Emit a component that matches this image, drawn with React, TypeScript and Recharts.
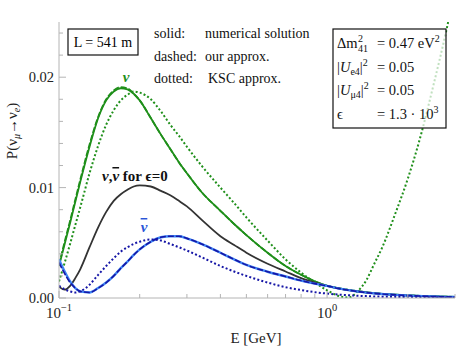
import { Line, LineChart, XAxis, YAxis } from "recharts";

const energies = [0.1, 0.105, 0.11, 0.115, 0.12, 0.13, 0.14, 0.15, 0.16, 0.17, 0.18, 0.19, 0.2, 0.22, 0.24, 0.26, 0.28, 0.3, 0.34, 0.4, 0.45, 0.5, 0.6, 0.7, 0.8, 0.9, 1.0, 1.1, 1.2, 1.3, 1.4, 1.5, 1.6, 1.8, 2.0, 2.2, 2.5, 2.8, 3.0];

// neutrino (green)
const nuNumerical = [0.0029, 0.0049, 0.0068, 0.0087, 0.0105, 0.0137, 0.0163, 0.0179, 0.0187, 0.019, 0.0189, 0.0185, 0.0179, 0.0163, 0.0148, 0.0135, 0.0123, 0.0113, 0.0096, 0.0079, 0.0067, 0.0057, 0.0041, 0.0029, 0.0021, 0.0015, 0.0011, 0.0009, 0.00074, 0.00061, 0.00051, 0.00044, 0.00038, 0.0003, 0.00024, 0.0002, 0.00015, 0.00012, 0.0001];
const nuOurs = [0.003, 0.0051, 0.007, 0.0089, 0.0107, 0.0139, 0.0164, 0.018, 0.0188, 0.0191, 0.019, 0.0185, 0.0179, 0.0163, 0.0148, 0.0135, 0.0123, 0.0113, 0.0096, 0.0079, 0.0067, 0.0057, 0.0041, 0.0029, 0.0021, 0.0015, 0.0011, 0.0009, 0.00074, 0.00061, 0.00051, 0.00044, 0.00038, 0.0003, 0.00024, 0.0002, 0.00015, 0.00012, 0.0001];
const nuKsc = [0.0015, 0.0032, 0.0049, 0.0066, 0.0082, 0.0113, 0.0138, 0.0157, 0.017, 0.0179, 0.0184, 0.0187, 0.0186, 0.018, 0.0169, 0.0157, 0.0147, 0.0137, 0.012, 0.01, 0.0086, 0.0073, 0.0052, 0.0035, 0.0023, 0.0014, 0.0007, 0.0002, 0.00005, 0.0006, 0.0016, 0.0031, 0.0045, 0.0077, 0.0108, 0.0141, 0.0194, 0.0245, 0.028];

// epsilon = 0 (black)
const epsZero = [0.00103, 0.00075, 0.0011, 0.0018, 0.0026, 0.0046, 0.0064, 0.0078, 0.0088, 0.0094, 0.0098, 0.0101, 0.0102, 0.0101, 0.0097, 0.0093, 0.0088, 0.0083, 0.0071, 0.0056, 0.0048, 0.0041, 0.0031, 0.0024, 0.0018, 0.0014, 0.0011, 0.00088, 0.00072, 0.0006, 0.0005, 0.00043, 0.00037, 0.00029, 0.00023, 0.00019, 0.00014, 0.00011, 0.0001];

// antineutrino (blue)
const barNumerical = [0.0035, 0.0024, 0.0015, 0.0009, 0.0006, 0.0005, 0.0009, 0.0014, 0.002, 0.0027, 0.0033, 0.0039, 0.0044, 0.0051, 0.0055, 0.0056, 0.0056, 0.0054, 0.0049, 0.0041, 0.0035, 0.003, 0.00238, 0.00195, 0.00158, 0.0013, 0.0011, 0.00087, 0.00071, 0.00059, 0.00049, 0.00042, 0.00036, 0.00028, 0.00022, 0.00018, 0.00013, 0.0001, 0.00009];
const barOurs = [0.0032, 0.0022, 0.0014, 0.0009, 0.0006, 0.0005, 0.0009, 0.0014, 0.002, 0.0027, 0.0033, 0.0039, 0.0044, 0.0051, 0.0055, 0.0056, 0.0056, 0.0054, 0.0049, 0.0041, 0.0035, 0.003, 0.00238, 0.00195, 0.00158, 0.0013, 0.0011, 0.00087, 0.00071, 0.00059, 0.00049, 0.00042, 0.00036, 0.00028, 0.00022, 0.00018, 0.00013, 0.0001, 0.00009];
const barKsc = [0.0011, 0.0008, 0.0006, 0.0005, 0.0006, 0.0012, 0.0021, 0.0029, 0.0036, 0.0042, 0.0046, 0.0049, 0.0051, 0.0053, 0.0052, 0.0049, 0.0046, 0.0043, 0.0037, 0.0029, 0.0024, 0.002, 0.0014, 0.00098, 0.00072, 0.00053, 0.0004, 0.00031, 0.00025, 0.0002, 0.00017, 0.00014, 0.00012, 0.0001, 0.00008, 0.00007, 0.00006, 0.00005, 0.00004];

const xTicks = [0.1, 0.2, 0.3, 0.4, 0.5, 0.6, 0.7, 0.8, 0.9, 1, 2, 3];
const yTicks = [0, 0.002, 0.004, 0.006, 0.008, 0.01, 0.012, 0.014, 0.016, 0.018, 0.02, 0.022, 0.024];

const data = energies.map((E, i) => ({
  E,
  nuNumerical: nuNumerical[i],
  nuOurs: nuOurs[i],
  nuKsc: nuKsc[i],
  epsZero: epsZero[i],
  barNumerical: barNumerical[i],
  barOurs: barOurs[i],
  barKsc: barKsc[i],
}));

const FONT = "'Liberation Serif', 'Times New Roman', serif";
const FRAME = "#b4b4b4";
const GREEN = "#1f8f1a";
const DARKBLUE = "#1616a6";
const LIGHTBLUE = "#3f86f5";

const isMajorX = (v: number) => v === 0.1 || v === 1;
const isMajorY = (v: number) => Math.abs(v * 100 - Math.round(v * 100)) < 1e-9;

function BottomTick({ x, y, payload }: any) {
  const major = isMajorX(payload.value);
  return (
    <g>
      <line x1={x} x2={x} y1={y} y2={y - (major ? 7 : 4)} stroke={FRAME} />
      {major && (
        <text x={x} y={y + 20} textAnchor="middle" fontFamily={FONT} fontSize={15} fill="#222">
          10
          <tspan dy={-7} fontSize={10.5}>{payload.value === 1 ? "0" : "\u22121"}</tspan>
        </text>
      )}
    </g>
  );
}

function TopTick({ x, y, payload }: any) {
  const major = isMajorX(payload.value);
  return <line x1={x} x2={x} y1={y} y2={y + (major ? 7 : 4)} stroke={FRAME} />;
}

function LeftTick({ x, y, payload }: any) {
  const major = isMajorY(payload.value);
  return (
    <g>
      <line x1={x} x2={x + (major ? 7 : 4)} y1={y} y2={y} stroke={FRAME} />
      {major && (
        <text x={x - 5} y={y + 5} textAnchor="end" fontFamily={FONT} fontSize={14.5} fill="#222">
          {payload.value.toFixed(2)}
        </text>
      )}
    </g>
  );
}

function RightTick({ x, y, payload }: any) {
  const major = isMajorY(payload.value);
  return <line x1={x} x2={x - (major ? 7 : 4)} y1={y} y2={y} stroke={FRAME} />;
}

function Annotations() {
  return (
    <svg width={457} height={347} style={{ position: "absolute", left: 0, top: 0, pointerEvents: "none" }} fontFamily={FONT}>
      <rect x={68} y={29} width={70} height={26} fill="#fff" stroke="#111" strokeWidth={1.2} />
      <text x={103} y={47} textAnchor="middle" fontSize={14}>L = 541 m</text>

      <text fontSize={14} fill="#111">
        <tspan x={154} y={38}>solid:</tspan>
        <tspan x={205} y={38}>numerical solution</tspan>
        <tspan x={154} y={61}>dashed:</tspan>
        <tspan x={205} y={61}>our approx.</tspan>
        <tspan x={154} y={83}>dotted:</tspan>
        <tspan x={208} y={83}>KSC approx.</tspan>
      </text>

      <rect x={333} y={29} width={113} height={99} fill="#fff" fillOpacity={0.72} stroke="#111" strokeWidth={1.2} />
      <text fontSize={14.5} fill="#111">
        <tspan x={337} y={48}>Δm</tspan>
        <tspan x={358} y={48} fontSize={10} dy={-6}>2</tspan>
        <tspan x={358} y={52} fontSize={10}>41</tspan>
        <tspan x={377} y={48}>= 0.47 eV</tspan>
        <tspan dy={-6} fontSize={10}>2</tspan>
        <tspan x={337} y={72}>|</tspan>
        <tspan fontStyle="italic">U</tspan>
        <tspan fontSize={10} dy={3}>e4</tspan>
        <tspan dy={-3}>|</tspan>
        <tspan fontSize={10} dy={-6}>2</tspan>
        <tspan x={377} y={72}>= 0.05</tspan>
        <tspan x={337} y={95}>|</tspan>
        <tspan fontStyle="italic">U</tspan>
        <tspan fontSize={10} dy={3}>μ4</tspan>
        <tspan dy={-3}>|</tspan>
        <tspan fontSize={10} dy={-6}>2</tspan>
        <tspan x={377} y={95}>= 0.05</tspan>
        <tspan x={337} y={119}>ϵ</tspan>
        <tspan x={377} y={119}>= 1.3 · 10</tspan>
        <tspan dy={-6} fontSize={10}>3</tspan>
      </text>

      <text x={126} y={82} textAnchor="middle" fontSize={15} fontWeight="bold" fontStyle="italic" fill={GREEN}>ν</text>
      <text x={102} y={181} fontSize={15} fontWeight="bold" fill="#111">
        <tspan fontStyle="italic">ν</tspan>,<tspan fontStyle="italic" style={{ textDecoration: "overline" }}>ν</tspan> for ϵ=0
      </text>
      <text x={144} y={232} textAnchor="middle" fontSize={15} fontWeight="bold" fontStyle="italic" fill="#2a55d8"
        style={{ textDecoration: "overline" }}>ν</text>

      <text transform="translate(17,131) rotate(-90)" textAnchor="middle" fontSize={15} fill="#222">
        P(ν<tspan fontSize={10} dy={3} fontStyle="italic">μ</tspan>
        <tspan dy={-3}>→ν</tspan>
        <tspan fontSize={10} dy={3} fontStyle="italic">e</tspan>
        <tspan dy={-3}>)</tspan>
      </text>
      <text x={256} y={343} textAnchor="middle" fontSize={15} fill="#222">E [GeV]</text>
    </svg>
  );
}

export default function App() {
  return (
    <div style={{ position: "absolute", left: 0, top: 0, width: 457, height: 347, background: "#fff" }}>
      <LineChart width={457} height={347} data={data} margin={{ top: 22, right: 2, left: 0, bottom: 0 }}>
        <XAxis dataKey="E" type="number" scale="log" domain={[0.1, 3]} allowDataOverflow ticks={xTicks}
          tickSize={0} tickMargin={0} tickLine={false} height={49} stroke={FRAME} tick={<BottomTick />} interval={0} />
        <XAxis xAxisId="top" orientation="top" dataKey="E" type="number" scale="log" domain={[0.1, 3]} allowDataOverflow
          ticks={xTicks} tickSize={0} tickMargin={0} tickLine={false} height={0} stroke={FRAME} tick={<TopTick />} interval={0} />
        <YAxis type="number" domain={[0, 0.025]} allowDataOverflow ticks={yTicks} tickSize={0} tickMargin={0}
          tickLine={false} width={59} stroke={FRAME} tick={<LeftTick />} interval={0} />
        <YAxis yAxisId="right" orientation="right" type="number" domain={[0, 0.025]} allowDataOverflow ticks={yTicks}
          tickSize={0} tickMargin={0} tickLine={false} width={0} stroke={FRAME} tick={<RightTick />} interval={0} />

        <Line dataKey="nuNumerical" type="monotone" stroke={GREEN} strokeWidth={1.8} dot={false} isAnimationActive={false} />
        <Line dataKey="nuOurs" type="monotone" stroke={GREEN} strokeWidth={1.8} strokeDasharray="6 2" dot={false} isAnimationActive={false} />
        <Line dataKey="nuKsc" type="monotone" stroke={GREEN} strokeWidth={2} strokeDasharray="2 2.2" dot={false} isAnimationActive={false} />
        <Line dataKey="epsZero" type="monotone" stroke="#333" strokeWidth={1.8} dot={false} isAnimationActive={false} />
        <Line dataKey="barNumerical" type="monotone" stroke={LIGHTBLUE} strokeWidth={2.4} dot={false} isAnimationActive={false} />
        <Line dataKey="barOurs" type="monotone" stroke={DARKBLUE} strokeWidth={1.6} strokeDasharray="6 2" dot={false} isAnimationActive={false} />
        <Line dataKey="barKsc" type="monotone" stroke={DARKBLUE} strokeWidth={2} strokeDasharray="2 2.2" dot={false} isAnimationActive={false} />
      </LineChart>
      <Annotations />
    </div>
  );
}
